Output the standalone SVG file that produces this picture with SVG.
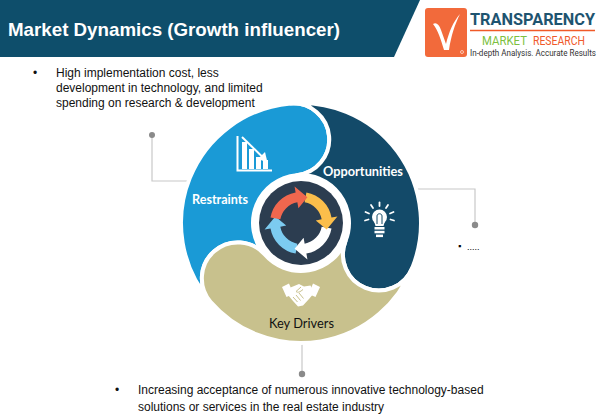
<svg xmlns="http://www.w3.org/2000/svg" xmlns:xlink="http://www.w3.org/1999/xlink" width="603" height="417" viewBox="0 0 603 417">
<defs>
<style>
.seg{stroke:#ffffff;stroke-width:4;stroke-linejoin:round}
.body{font-family:"Liberation Sans",Arial,sans-serif;font-size:12px;fill:#111111}
.lbl{font-family:Lato,"Open Sans",sans-serif;font-weight:bold;font-size:12.5px;fill:#ffffff}
.conn{fill:none;stroke:#c8c8c8;stroke-width:1.2}
.dot{fill:#8a8a8a}
.ico{fill:#ffffff}
</style>
<path id="arw" d="M -30.5 -5.38 A 31 31 0 0 1 -5.38 -30.5 L -6.42 -36.42 L 6.4 -25.67 L -2.6 -14.77 L -3.65 -20.68 A 21 21 0 0 0 -20.68 -3.65 Z"/>
</defs>
<rect width="603" height="417" fill="#ffffff"/>

<g id="header">
<path d="M0 0 H420 L394 57 H0 Z" fill="#0e4e6b"/>
<text x="8" y="36" font-family="Liberation Sans,Arial,sans-serif" font-weight="bold" font-size="19" fill="#ffffff" textLength="332" lengthAdjust="spacingAndGlyphs">Market Dynamics (Growth influencer)</text>
</g>

<g id="logo">
<rect x="425" y="8" width="42" height="49" rx="3" fill="#f26a3b"/>
<path d="M433 24 C436 22 439 24 441 30 L446 44 C449 32 453 22 460 14 C455 24 451 36 449 50 L444 50 C441 40 438 30 433 24 Z" fill="#ffffff"/>
<circle cx="462" cy="52" r="1.5" fill="none" stroke="#ffffff" stroke-width="0.6"/>
<text x="470" y="25" font-family="Roboto,'Liberation Sans',sans-serif" font-weight="bold" font-size="17" fill="#1e5470" textLength="125" lengthAdjust="spacingAndGlyphs">TRANSPARENCY</text>
<line x1="470" y1="30.5" x2="595" y2="30.5" stroke="#f05a28" stroke-width="1.4"/>
<text x="482" y="45" font-family="Roboto,'Liberation Sans',sans-serif" font-size="12.5" fill="#7dbf3f" textLength="45" lengthAdjust="spacingAndGlyphs">MARKET</text>
<text x="533" y="45" font-family="Roboto,'Liberation Sans',sans-serif" font-size="12.5" fill="#f0592a" textLength="52" lengthAdjust="spacingAndGlyphs">RESEARCH</text>
<text x="470" y="56" font-family="Roboto,'Liberation Sans',sans-serif" font-size="8.2" fill="#333333" textLength="126" lengthAdjust="spacingAndGlyphs">In-depth Analysis. Accurate Results</text>
</g>

<g id="connectors">
<polyline class="conn" points="152,135 152,181 190,181"/>
<circle class="dot" cx="152" cy="135" r="3"/>
<polyline class="conn" points="417,189 475,189 475,225"/>
<circle class="dot" cx="475" cy="225" r="3.2"/>
<line class="conn" x1="302" y1="341" x2="302" y2="374"/>
<circle class="dot" cx="302" cy="374" r="3.2"/>
</g>

<g id="restraints">
<path class="seg" fill="#1a9ad6" d="M 210.44 301.73 A 120 120 0 0 1 290.54 103.46 A 36 36 0 0 1 296.82 175.18 A 48 48 0 0 0 264.77 254.49 A 36 36 0 0 0 210.44 301.73 Z"/>
<g class="ico">
<polyline points="237.5,136 237.5,170.5 272,170.5" fill="none" stroke="#ffffff" stroke-width="2"/>
<rect x="242" y="142" width="5" height="27"/>
<rect x="249" y="149" width="5" height="20"/>
<rect x="256" y="157" width="5" height="12"/>
<rect x="263" y="160" width="5" height="9"/>
<line x1="242" y1="137" x2="262" y2="156.5" stroke="#ffffff" stroke-width="2"/>
<polygon points="258,159 265,152 267.5,162.5"/>
</g>
<text class="lbl" x="192" y="204" textLength="56" lengthAdjust="spacingAndGlyphs">Restraints</text>
</g>

<g id="opportunities">
<path class="seg" fill="#134a69" d="M 290.54 103.46 A 120 120 0 0 1 412.26 267.95 A 36 36 0 0 1 345.5 240.98 A 48 48 0 0 0 296.82 175.18 A 36 36 0 0 0 290.54 103.46 Z"/>
<text class="lbl" x="323" y="176" textLength="80" lengthAdjust="spacingAndGlyphs">Opportunities</text>
<g class="ico">
<circle cx="379.5" cy="217" r="7.5"/>
<path d="M374 221 L385 221 L383.5 226 L375.5 226 Z"/>
<rect x="374.5" y="227" width="10" height="2.5"/>
<rect x="374.5" y="230.8" width="10" height="2.5"/>
<rect x="376" y="234.6" width="7" height="2.5"/>
<path d="M377 224 L377 216 M382 224 L382 216 M377 216 C377 213 382 213 382 216" fill="none" stroke="#134a69" stroke-width="1"/>
<g stroke="#ffffff" stroke-width="1.8" stroke-linecap="round">
<line x1="379.5" y1="206" x2="379.5" y2="202.5"/>
<line x1="386" y1="208" x2="388" y2="205"/>
<line x1="373" y1="208" x2="371" y2="205"/>
<line x1="390" y1="213.5" x2="393.5" y2="212"/>
<line x1="369" y1="213.5" x2="365.5" y2="212"/>
<line x1="390.5" y1="219.5" x2="394" y2="220.5"/>
<line x1="368.5" y1="219.5" x2="365" y2="220.5"/>
</g>
</g>
</g>

<g id="key-drivers">
<path class="seg" fill="#c8c18d" d="M 412.26 267.95 A 120 120 0 0 1 210.44 301.73 A 36 36 0 0 1 264.77 254.49 A 48 48 0 0 0 345.5 240.98 A 36 36 0 0 0 412.26 267.95 Z"/>
<g class="ico">
<polygon points="282,287 289,283.5 293.5,294 286.5,297"/>
<polygon points="313,283.5 320,287 315.5,297 308.5,294"/>
<polygon points="290.5,287.5 299,284 304,286.5 310.5,285.5 314,293 309,299 303,305.5 298,306.5 293,301 288,295"/>
<g stroke="#c8c18d" stroke-width="1" fill="none">
<line x1="293" y1="297" x2="297.5" y2="302"/>
<line x1="296" y1="295" x2="300.5" y2="300.5"/>
<line x1="299" y1="293" x2="303.5" y2="298.5"/>
<path d="M301 287 L296 291.5 C298 293 300 292 303 289.5"/>
</g>
</g>
<text x="269" y="328" font-family="Lato,'Open Sans',sans-serif" font-size="13" fill="#111111" textLength="65" lengthAdjust="spacingAndGlyphs">Key Drivers</text>
</g>

<g id="cycle">
<circle cx="301" cy="223" r="42" fill="#2c3d50"/>
<g transform="translate(301 223)">
<use xlink:href="#arw" fill="#7ccbf0" transform="rotate(270)"/>
<use xlink:href="#arw" fill="#ffffff" transform="rotate(180)"/>
<use xlink:href="#arw" fill="#fbbe4b" transform="rotate(90)"/>
<use xlink:href="#arw" fill="#f1674e"/>
</g>
</g>

<g id="notes">
<text class="body" x="33" y="77">•</text>
<text class="body" x="56" y="77">High implementation cost, less</text>
<text class="body" x="56" y="92">development in technology, and limited</text>
<text class="body" x="56" y="107">spending on research &amp; development</text>
<text x="458" y="249" font-family="Liberation Sans,Arial,sans-serif" font-size="9" fill="#000000">▪</text>
<text x="467" y="250" font-family="Liberation Sans,Arial,sans-serif" font-size="9" fill="#000000">.....</text>
<text class="body" x="115" y="394">•</text>
<text class="body" x="138" y="394">Increasing acceptance of numerous innovative technology-based</text>
<text class="body" x="138" y="411">solutions or services in the real estate industry</text>
</g>
</svg>
